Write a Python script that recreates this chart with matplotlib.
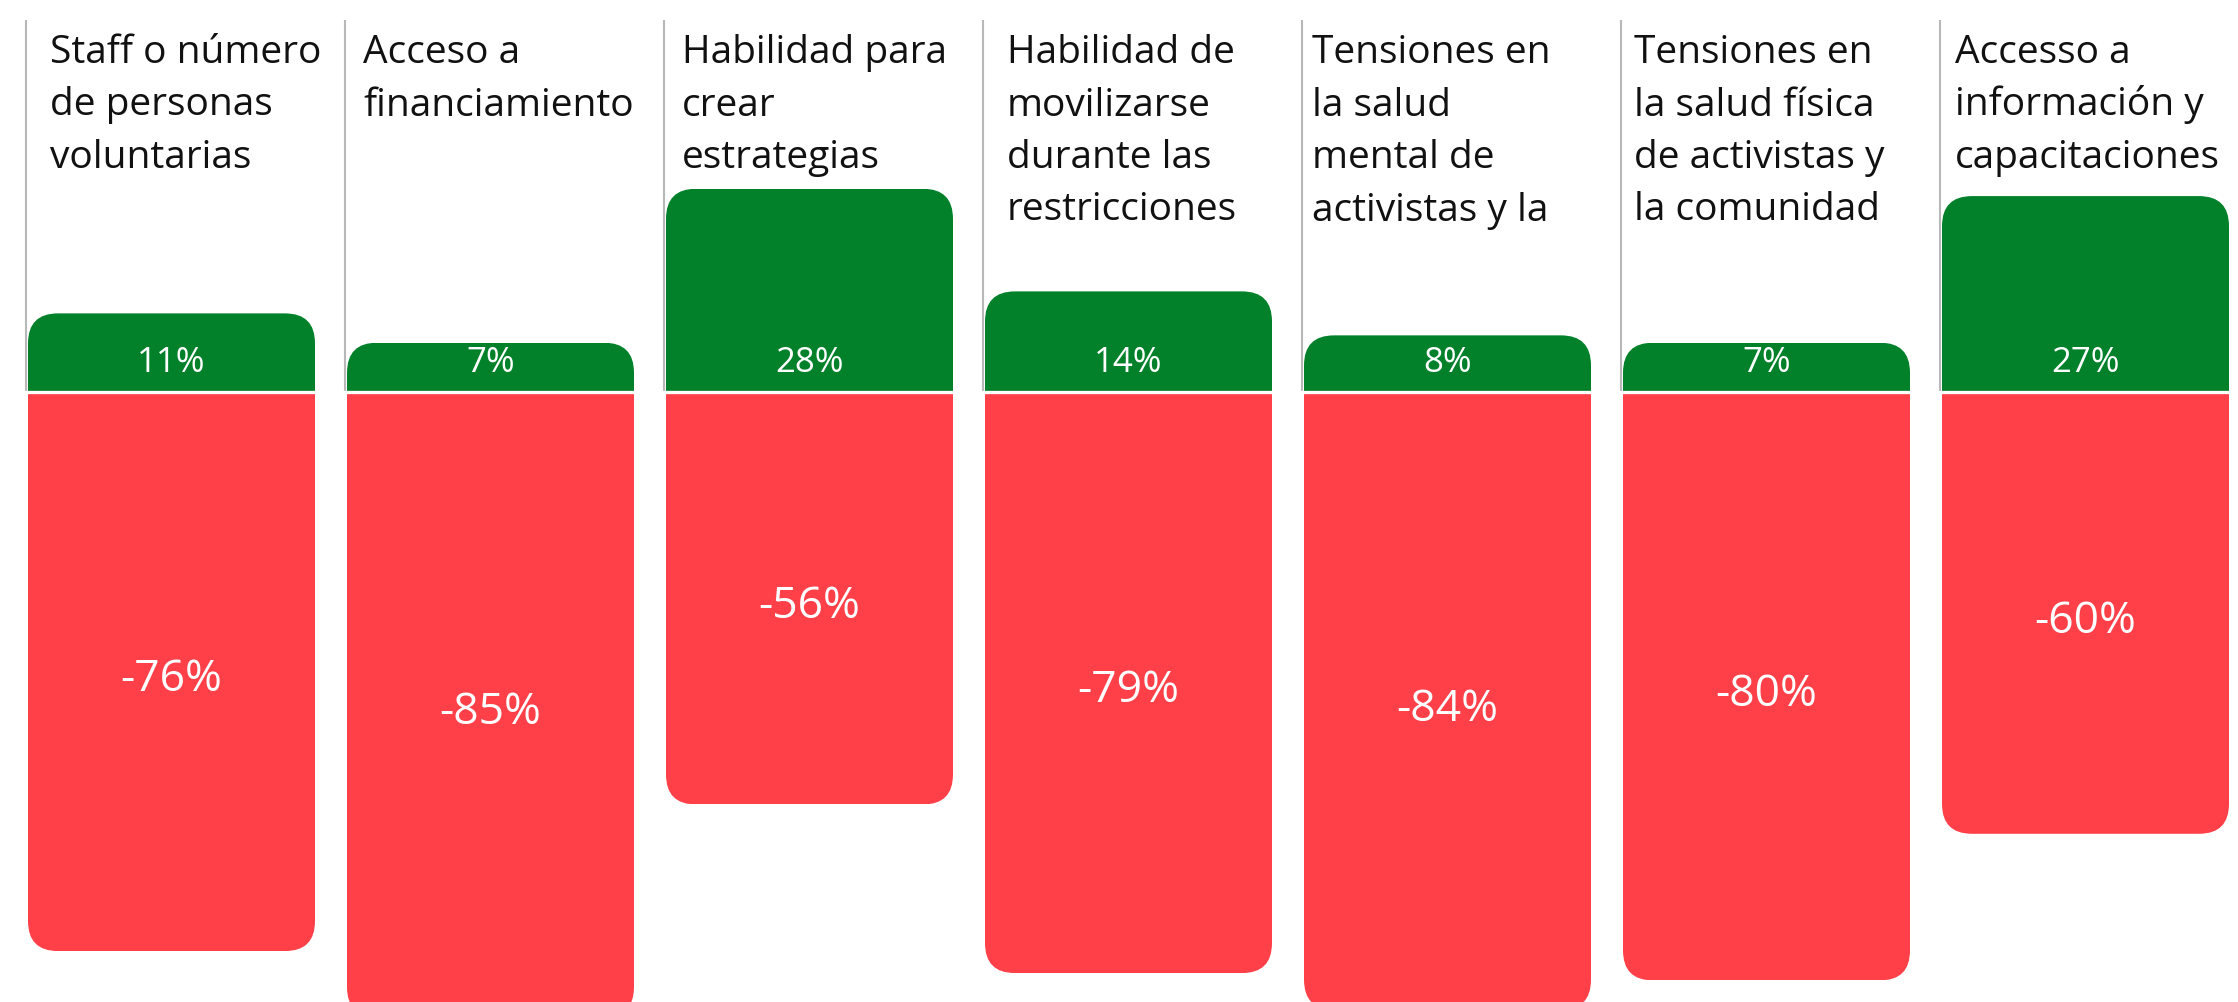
import matplotlib
matplotlib.use("Agg")
import matplotlib.pyplot as plt
from matplotlib.patches import FancyBboxPatch, Rectangle

# data
headers = [
    ["Staff o número", "de personas", "voluntarias"],
    ["Acceso a", "financiamiento"],
    ["Habilidad para", "crear", "estrategias"],
    ["Habilidad de", "movilizarse", "durante las", "restricciones"],
    ["Tensiones en", "la salud", "mental de", "activistas y la"],
    ["Tensiones en", "la salud física", "de activistas y", "la comunidad"],
    ["Accesso a", "información y", "capacitaciones"],
]
positive = [11, 7, 28, 14, 8, 7, 27]
negative = [-76, -85, -56, -79, -84, -80, -60]

GREEN = "#02812A"
RED = "#FF4049"

plt.rcParams["font.family"] = ["Open Sans", "DejaVu Sans"]

W, H = 2238, 1003
fig = plt.figure(figsize=(W / 100, H / 100), dpi=100)
ax = fig.add_axes([0, 0, 1, 1])
ax.axis("off")

# layout in pixels
px_x = 319.0      # pixels per category
px_y = 7.33       # pixels per percent
base_px = 395.0   # zero line, from top
left_px = 28.0
gap_px = 3.3      # white gap above zero
text_pad = [22, 16, 16, 22, 8, 11, 13]  # header indent per panel, px

x0 = -left_px / px_x
ax.set_xlim(x0, x0 + W / px_x)
ytop = base_px / px_y
ax.set_ylim(ytop - H / px_y, ytop)


def py(p):
    # pixel row (from top) -> data y
    return (base_px - p) / px_y


width = 287 / px_x
idx = list(range(len(positive)))
rx = 30 / px_x
ry = 30 / px_y

gbars = ax.bar(idx, positive, width, align="edge", color=GREEN, zorder=2)
rbars = ax.bar(idx, negative, width, align="edge", color=RED, zorder=2)

# round only the outer corners
for bars, up in ((gbars, True), (rbars, False)):
    for b in bars:
        x, w = b.get_x(), b.get_width()
        lo, hi = sorted([b.get_y(), b.get_y() + b.get_height()])
        if up:
            lo -= 3 * ry
        else:
            hi += 3 * ry
        clip = FancyBboxPatch((x, lo), w, hi - lo,
                              boxstyle=f"round,pad=0,rounding_size={rx}",
                              mutation_aspect=ry / rx, transform=ax.transData)
        b.set_clip_path(clip)

# thin gray separators and the white gap at zero
ax.vlines([i - 2 / px_x for i in idx], gap_px / px_y, py(21),
          color="#B8B8B8", lw=1.5, zorder=1)
ax.axhline(gap_px / 2 / px_y, color="white", lw=gap_px * 0.72, zorder=3)

for i, lines in enumerate(headers):
    clip_y = py(base_px - positive[i] * px_y - 19)
    clip = Rectangle((i - 0.2, clip_y), 1.4, 200, transform=ax.transData)
    for k, line in enumerate(lines):
        t = ax.text(i + text_pad[i] / px_x, py(63 + 52.5 * k), line, fontsize=28,
                    color="#111111", ha="left", va="baseline", zorder=4)
        t.set_clip_path(clip)
    ax.text(i + width / 2, py(363), f"{positive[i]}%", fontsize=25,
            color="white", ha="center", va="center", zorder=4)
    ax.text(i + width / 2, negative[i] / 2 - 0.9, f"{negative[i]}%", fontsize=32,
            color="white", ha="center", va="center", zorder=4)

fig.savefig("out.png", dpi=100, facecolor="white")
